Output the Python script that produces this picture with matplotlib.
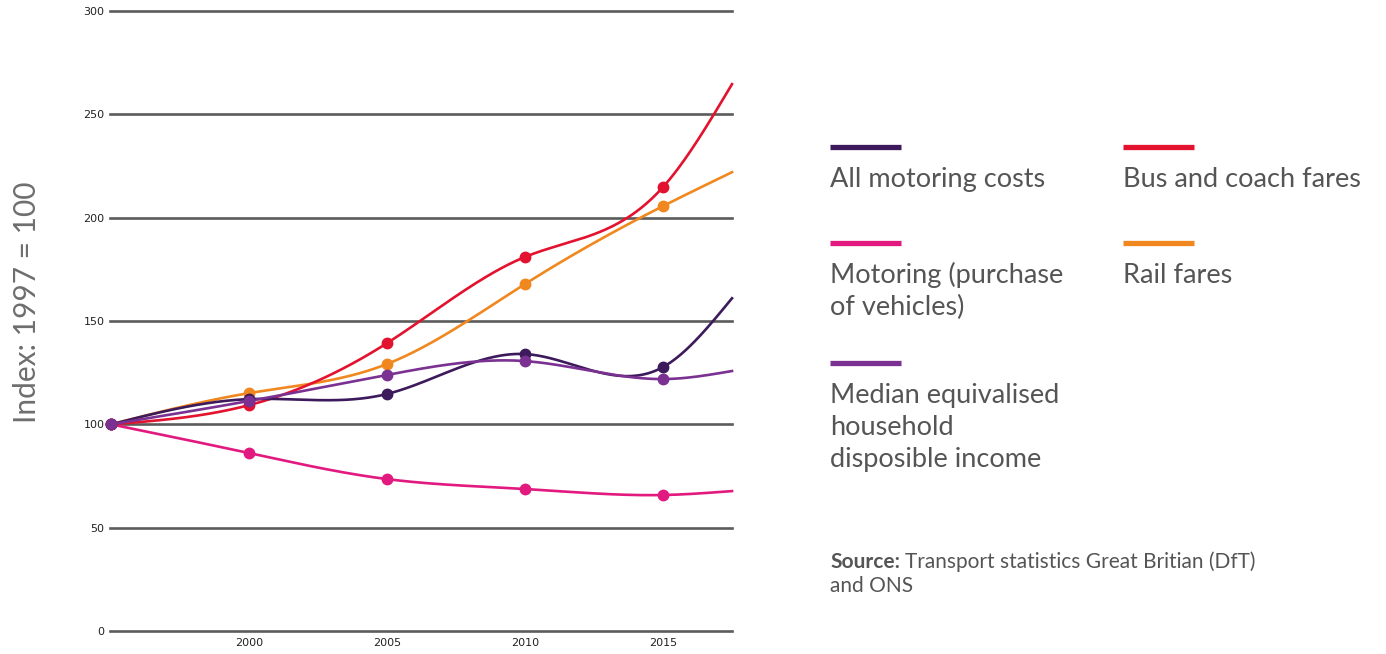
import numpy as np
import matplotlib
matplotlib.use('Agg')
import matplotlib.pyplot as plt

# Данные (индекс, 1997 = 100)
years = [1995, 2000, 2005, 2010, 2015, 2017.5]
all_motoring = [100, 112.2, 114.7, 134.0, 127.7, 161.0]
bus_coach = [100, 109.3, 139.3, 181.0, 214.8, 264.6]
rail_fares = [100, 115.1, 129.2, 167.9, 205.6, 222.0]
purchase = [100, 86.1, 73.5, 68.7, 65.8, 67.7]
median_income = [100, 111.3, 123.9, 130.6, 121.9, 125.8]

y_ticks = [0, 50, 100, 150, 200, 250, 300]
x_ticks = [2000, 2005, 2010, 2015]


def natural_spline(x, y, n=400):
    """Естественный кубический сплайн для сглаживания линии"""
    x = np.asarray(x, float)
    y = np.asarray(y, float)
    k = len(x)
    h = np.diff(x)
    A = np.zeros((k, k))
    r = np.zeros(k)
    A[0, 0] = A[-1, -1] = 1
    for i in range(1, k - 1):
        A[i, i - 1] = h[i - 1]
        A[i, i] = 2 * (h[i - 1] + h[i])
        A[i, i + 1] = h[i]
        r[i] = 6 * ((y[i + 1] - y[i]) / h[i] - (y[i] - y[i - 1]) / h[i - 1])
    m = np.linalg.solve(A, r)
    xs = np.linspace(x[0], x[-1], n)
    idx = np.clip(np.searchsorted(x, xs) - 1, 0, k - 2)
    x0, x1 = x[idx], x[idx + 1]
    hh = x1 - x0
    a = (x1 - xs) / hh
    b = (xs - x0) / hh
    ys = (a * y[idx] + b * y[idx + 1]
          + ((a ** 3 - a) * m[idx] + (b ** 3 - b) * m[idx + 1]) * hh ** 2 / 6)
    return xs, ys


W, H = 1386, 654
fig = plt.figure(figsize=(W / 100, H / 100), dpi=100)
ax = fig.add_axes([110 / W, 1 - 631 / H, (732 - 110) / W, 620 / H])
ax.set_xlim(1994.96, 2017.5)
ax.set_ylim(0, 300)

for v in y_ticks:
    ax.axhline(v, color='#5b5b5b', lw=1.9, clip_on=False, zorder=1)

series = [
    (purchase, '#e2197f'),
    (rail_fares, '#f0881f'),
    (bus_coach, '#e3122e'),
    (all_motoring, '#3c1a5b'),
    (median_income, '#7a3192'),
]
for vals, color in series:
    xs, ys = natural_spline(years, vals)
    ax.plot(xs, ys, color=color, lw=1.9, zorder=3, clip_on=False)
    ax.plot(years[:-1], vals[:-1], 'o', color=color, ms=7.5, zorder=4, clip_on=False)

for s in ax.spines.values():
    s.set_visible(False)
ax.set_yticks(y_ticks)
ax.set_xticks(x_ticks)
ax.tick_params(length=0, labelsize=8, labelcolor='#222222', pad=4)
ax.tick_params(axis='x', pad=5)

fig.text(27 / W, 1 - 302 / H, 'Index: 1997 = 100', rotation=90, ha='center', va='center',
         fontsize=21.5, color='#6e6e6e', family='Lato')

# Легенда справа: цвет, строки подписи, x, y линии
legend_items = [
    ('#3c1a5b', ['All motoring costs'], 830, 147),
    ('#e3122e', ['Bus and coach fares'], 1123, 147),
    ('#e2197f', ['Motoring (purchase', 'of vehicles)'], 830, 243),
    ('#f0881f', ['Rail fares'], 1123, 243),
    ('#7a3192', ['Median equivalised', 'household', 'disposible income'], 830, 363),
]
for color, lines, px, py in legend_items:
    fig.add_artist(plt.Line2D([px / W, (px + 71) / W], [1 - py / H, 1 - py / H],
                              color=color, lw=3.8, solid_capstyle='butt'))
    for j, line in enumerate(lines):
        fig.text(px / W, 1 - (py + 40 + 32 * j) / H, line, ha='left', va='baseline',
                 fontsize=19.5, color='#555555', family='Lato')

src_bold = fig.text(830 / W, 1 - 568 / H, 'Source:', ha='left', va='baseline', fontsize=15,
                    color='#555555', family='Lato', weight='bold')
fig.canvas.draw()
bb = src_bold.get_window_extent()
fig.text((bb.x1 + 5) / W, 1 - 568 / H, 'Transport statistics Great Britian (DfT)', ha='left',
         va='baseline', fontsize=15, color='#555555', family='Lato')
fig.text(830 / W, 1 - 592 / H, 'and ONS', ha='left', va='baseline', fontsize=15,
         color='#555555', family='Lato')

fig.savefig('out.png', dpi=100)
